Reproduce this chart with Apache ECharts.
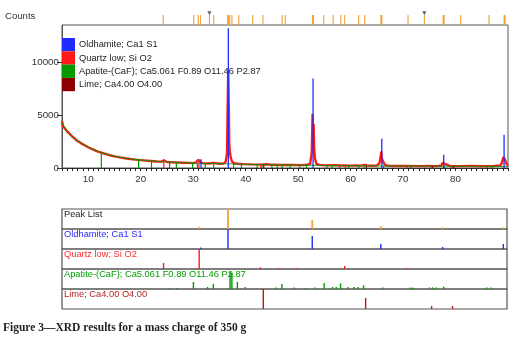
<!DOCTYPE html>
<html><head><meta charset="utf-8">
<script src="https://cdn.jsdelivr.net/npm/echarts@6/dist/echarts.min.js"></script>
<style>html,body{margin:0;padding:0;background:#fff}#c{width:520px;height:340px}</style>
</head><body><div id="c"></div>
<script>
// ---------- data ----------
const xTickLabels = [10, 20, 30, 40, 50, 60, 70, 80];
const yTickLabels = [0, 5000, 10000];

// measured pattern (2theta, counts)
const measured = [[5.0,4450],[5.2,3950],[5.4,4050],[5.6,3700],[5.8,3650],[6.0,3450],[6.3,3350],[6.6,3150],[7.0,2950],[7.4,2800],[7.8,2600],[8.2,2480],[8.6,2350],[9.0,2230],[9.5,2100],[10.0,1960],[10.5,1840],[11.0,1730],[11.5,1620],[12.0,1530],[12.5,1450],[13.0,1370],[13.5,1300],[14.0,1220],[14.5,1160],[15.0,1100],[16.0,1000],[17.0,920],[18.0,850],[19.0,790],[20.0,740],[21.0,700],[22.0,660],[23.0,620],[24.0,600],[24.4,720],[24.6,590],[25.0,570],[26.0,540],[27.0,520],[28.0,500],[29.0,480],[30.0,460],[30.5,520],[30.8,700],[31.0,780],[31.2,600],[31.6,480],[32.0,440],[33.0,420],[33.9,480],[34.2,410],[35.0,400],[35.8,420],[36.2,600],[36.45,1400],[36.55,5200],[36.68,9200],[36.78,6000],[36.88,2200],[37.0,1500],[37.15,1000],[37.4,600],[37.8,450],[38.5,400],[39.5,370],[41,340],[43,320],[44,350],[45,300],[47,290],[49,280],[50.5,270],[51.5,280],[52.3,400],[52.6,1500],[52.75,5100],[52.85,3400],[52.95,4150],[53.05,2000],[53.2,900],[53.5,380],[54,290],[55,250],[57,260],[58,230],[59,250],[60,220],[61,240],[62,220],[62.7,300],[63.2,220],[64,210],[65,220],[65.5,450],[65.75,1100],[65.85,1560],[65.95,900],[66.1,800],[66.3,500],[66.6,260],[67.5,200],[69,190],[71,200],[73,180],[75,190],[76.5,180],[77.3,240],[77.55,480],[77.7,560],[77.85,450],[78.0,380],[78.3,220],[79,170],[81,180],[83,190],[85,170],[87,180],[88.5,230],[88.8,450],[89.0,800],[89.15,1030],[89.35,1000],[89.5,700],[89.7,400],[90,220]];

// background / calculated line
const background = [[5,4300],[5.5,3800],[6,3450],[7,2950],[8,2550],[9,2250],[10,1980],[11,1740],[12,1540],[13,1380],[14,1240],[15,1120],[16,1020],[17,940],[18,870],[19,810],[20,760],[22,670],[24,600],[26,550],[28,510],[30,470],[32,440],[34,420],[36,400],[38,380],[40,350],[43,320],[46,300],[50,270],[55,240],[60,215],[65,200],[70,185],[75,175],[80,165],[85,158],[90,150]];

// reference sticks in the main plot
const oldhamiteMain = [[31.5,820],[36.7,13200],[52.85,8450],[65.95,2750],[77.75,1250],[89.25,3130]];
const quartzMain = [[24.4,700],[31.1,780],[42.9,340],[59.0,250],[70.8,190]];
const apatiteMain = [[12.5,1450],[19.6,790],[22.06,660],[25.5,560],[26.8,530],[29.9,470],[30.8,455],[32.3,430],[33.9,420],[37.7,380],[39.2,360],[42.2,330],[43.1,320],[45.0,310],[46.0,300],[46.95,300],[48.5,285],[50.3,270],[51.6,260],[55.5,240],[56.5,235],[57.9,225],[59.6,220],[61.6,210],[62.6,205],[66.3,200],[71.5,185],[75.5,175],[77.9,170],[86.1,160],[87.0,158]];
const limeMain = [[43.45,330],[63.0,210],[75.6,175],[79.6,170]];

// peak list markers above the plot
const peakListPos = [24.29,30.11,30.95,31.39,33.1,33.92,36.67,36.97,37.39,38.69,41.35,43.30,46.95,47.54,52.82,54.88,56.67,58.15,58.88,61.54,62.69,65.87,70.95,74.06,77.73,80.97,86.38,89.35];
const peakListStrong = [36.67,52.82,65.87,77.73,89.35];
const peakListArrows = [33.1,74.06];

// stick panels (relative intensity, %)
const peakListRel = [[31.2,10],[36.7,100],[52.8,45],[65.9,15],[77.7,8],[89.3,8]];
const oldhamiteRel = [[31.5,8],[36.7,100],[52.8,65],[65.9,25],[77.7,10],[89.3,25]];
const quartzRel = [[24.4,30],[31.2,100],[42.9,8],[46.3,5],[49.8,5],[59.0,15],[70.8,5]];
const apatiteRel = [[25.7,5],[26.95,5],[30.1,35],[32.8,10],[33.9,25],[37.1,85],[37.45,80],[38.5,35],[40.0,10],[45.9,8],[47.0,25],[49.35,8],[51.5,5],[53.3,8],[55.07,30],[56.67,10],[57.4,10],[58.2,28],[59.6,10],[60.8,10],[61.6,10],[62.6,18],[66.3,8],[71.5,8],[72.0,8],[75.2,8],[75.8,8],[76.5,8],[77.9,12],[86.1,8],[86.95,8]];
const limeRel = [[43.45,100],[63.0,55],[75.6,15],[79.6,15]];

const rowLabels = ['Peak List','Oldhamite; Ca1 S1','Quartz low; Si O2','Apatite-(CaF); Ca5.061 F0.89 O11.46 P2.87','Lime; Ca4.00 O4.00'];
const legendNames = ['Oldhamite; Ca1 S1','Quartz low; Si O2','Apatite-(CaF); Ca5.061 F0.89 O11.46 P2.87','Lime; Ca4.00 O4.00'];

// ---------- styling ----------
const FONT = 'Liberation Sans, Arial, sans-serif';
const C = {blue:'#1f2bff', red:'#ff1a1a', green:'#009a00', lime:'#8b0000', limeStick:'#c01818', orange:'#f5a033', border:'#555'};
const rowColors = ['#222', '#2a2aff', '#ff2a2a', '#00a000', '#b22222'];
const rowStickColors = [C.orange, C.blue, C.red, C.green, C.limeStick];
const rowData = [peakListRel, oldhamiteRel, quartzRel, apatiteRel, limeRel];

function stick(width) {
  return function (params, api) {
    const a = api.coord([api.value(0), 0]);
    const b = api.coord([api.value(0), api.value(1)]);
    return {type:'line', shape:{x1:a[0], y1:a[1], x2:b[0], y2:b[1]},
      style:{stroke: api.visual('color'), lineWidth: width}};
  };
}
function plain(v) { return String(v); }

const L = 62, W = 446;
const grids = [
  {left:L, top:25, width:W, height:143, show:true, borderColor:C.border, borderWidth:1},
  {left:L, top:12, width:W, height:13}
];
const xAxes = [
  {gridIndex:0, type:'value', min:5, max:90, interval:1,
   axisLine:{show:true, lineStyle:{color:'#333'}},
   axisTick:{show:true, length:3, lineStyle:{color:'#222'}},
   axisLabel:{customValues:xTickLabels, formatter:plain, color:'#333', fontSize:9.8, fontFamily:FONT, margin:6},
   splitLine:{show:false}},
  {gridIndex:1, type:'value', min:5, max:90, show:false}
];
const yAxes = [
  {gridIndex:0, type:'value', min:0, max:13500,
   axisLine:{show:true, lineStyle:{color:'#555'}},
   axisTick:{show:true, length:5, customValues:yTickLabels, lineStyle:{color:'#333'}},
   axisLabel:{customValues:yTickLabels, formatter:plain, color:'#333', fontSize:9.8, fontFamily:FONT, margin:3},
   splitLine:{show:false}},
  {gridIndex:1, type:'value', min:0, max:13, show:false}
];
const rowTop = 209, rowH = 20;
for (let i = 0; i < 5; i++) {
  grids.push({left:L, top:rowTop + i*rowH, width:W-1, height:rowH, show:true, borderColor:C.border, borderWidth:1.2});
  xAxes.push({gridIndex:2+i, type:'value', min:5, max:90, show:false});
  yAxes.push({gridIndex:2+i, type:'value', min:0, max:100, show:false});
}

const series = [
  {name:'Measured', type:'line', xAxisIndex:0, yAxisIndex:0, data:measured, showSymbol:false,
   lineStyle:{color:C.red, width:2.4}, itemStyle:{color:C.red}, z:2},
  {name:'Background', type:'line', xAxisIndex:0, yAxisIndex:0, data:background, showSymbol:false,
   lineStyle:{color:C.green, width:0.9}, itemStyle:{color:C.green}, z:3},
  {name:legendNames[2], type:'custom', xAxisIndex:0, yAxisIndex:0, data:apatiteMain, renderItem:stick(1.2), itemStyle:{color:C.green}, z:4},
  {name:legendNames[3], type:'custom', xAxisIndex:0, yAxisIndex:0, data:limeMain, renderItem:stick(1.2), itemStyle:{color:C.lime}, z:4},
  {name:legendNames[1], type:'custom', xAxisIndex:0, yAxisIndex:0, data:quartzMain, renderItem:stick(1.2), itemStyle:{color:C.red}, z:5},
  {name:legendNames[0], type:'custom', xAxisIndex:0, yAxisIndex:0, data:oldhamiteMain, renderItem:stick(1.3), itemStyle:{color:C.blue}, z:6},
  {name:'Peak markers', type:'custom', xAxisIndex:1, yAxisIndex:1,
   data:peakListPos.map(function (x) { return [x, peakListStrong.indexOf(x) >= 0 ? 2 : 1]; }),
   renderItem:function (params, api) {
     const a = api.coord([api.value(0), 0]);
     const b = api.coord([api.value(0), 10]);
     return {type:'line', shape:{x1:a[0], y1:a[1], x2:b[0], y2:b[1]},
       style:{stroke:C.orange, lineWidth: api.value(1) === 2 ? 2 : 1.1}};
   }, itemStyle:{color:C.orange}},
  {name:'Arrows', type:'scatter', xAxisIndex:1, yAxisIndex:1,
   data:peakListArrows.map(function (x) { return [x, 11.8]; }),
   symbol:'triangle', symbolRotate:180, symbolSize:[4,4], itemStyle:{color:'#333'}}
];
for (let i = 0; i < 5; i++) {
  series.push({name:'row' + i, type:'custom', xAxisIndex:2+i, yAxisIndex:2+i, data:rowData[i],
    renderItem:stick(i === 0 ? 1.8 : 1.4), itemStyle:{color:rowStickColors[i]}});
}

const graphic = [
  {type:'text', left:5, top:11, style:{text:'Counts', fill:'#333', font:'9.6px ' + FONT}},
  {type:'text', left:3, top:322, style:{text:'Figure 3\u2014XRD results for a mass charge of 350 g', fill:'#231f20', font:'bold 11.5px Liberation Serif, serif'}}
];
for (let i = 0; i < 5; i++) {
  graphic.push({type:'text', left:64, top:rowTop + i*rowH + 1, z:100,
    style:{text:rowLabels[i], fill:rowColors[i], font:'9.3px ' + FONT}});
}

const chart = echarts.init(document.getElementById('c'), null, {renderer:'canvas'});
chart.setOption({
  animation:false,
  backgroundColor:'#fff',
  grid:grids, xAxis:xAxes, yAxis:yAxes, series:series, graphic:graphic,
  legend:{data:legendNames, orient:'vertical', left:62, top:38, padding:0, itemGap:0,
    itemWidth:13, itemHeight:13.3, icon:'rect', selectedMode:false,
    textStyle:{color:'#222', fontSize:9.3, fontFamily:FONT, padding:[0,0,0,-1]}}
});
</script></body></html>
